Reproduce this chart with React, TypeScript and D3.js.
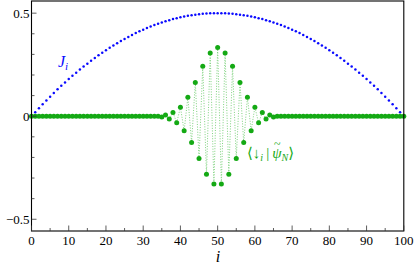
import React from "react";
import * as d3 from "d3";

const siteIndex: number[] = d3.range(0, 101);

// J_i coupling profile
const couplingJ: number[] = [
  0, 0.0198, 0.0392, 0.0582, 0.0768, 0.095, 0.1128, 0.1302, 0.1472, 0.1638,
  0.18, 0.1958, 0.2112, 0.2262, 0.2408, 0.255, 0.2688, 0.2822, 0.2952, 0.3078,
  0.32, 0.3318, 0.3432, 0.3542, 0.3648, 0.375, 0.3848, 0.3942, 0.4032, 0.4118,
  0.42, 0.4278, 0.4352, 0.4422, 0.4488, 0.455, 0.4608, 0.4662, 0.4712, 0.4758,
  0.48, 0.4838, 0.4872, 0.4902, 0.4928, 0.495, 0.4968, 0.4982, 0.4992, 0.4998,
  0.5,
  0.4998, 0.4992, 0.4982, 0.4968, 0.495, 0.4928, 0.4902, 0.4872, 0.4838, 0.48,
  0.4758, 0.4712, 0.4662, 0.4608, 0.455, 0.4488, 0.4422, 0.4352, 0.4278, 0.42,
  0.4118, 0.4032, 0.3942, 0.3848, 0.375, 0.3648, 0.3542, 0.3432, 0.3318, 0.32,
  0.3078, 0.2952, 0.2822, 0.2688, 0.255, 0.2408, 0.2262, 0.2112, 0.1958, 0.18,
  0.1638, 0.1472, 0.1302, 0.1128, 0.095, 0.0768, 0.0582, 0.0392, 0.0198, 0,
];

// <down_i | psi_N> amplitudes (green)
const overlap: number[] = [
  0, 0, 0, 0, 0, 0, 0, 0, 0, 0,
  0, 0, 0, 0, 0, 0, 0, 0, 0, 0,
  0, 0, 0, 0, 0, 0, 0, 0, 0, 0,
  0, 0, 0, 0, 0, -0.004, 0.006, -0.014, 0.018, -0.032,
  0.044, -0.07, 0.092, -0.128, 0.164, -0.205, 0.243, -0.282, 0.307, -0.329,
  0.333,
  -0.329, 0.307, -0.282, 0.243, -0.205, 0.164, -0.128, 0.092, -0.07, 0.044,
  -0.032, 0.018, -0.014, 0.006, -0.004, 0, 0, 0, 0, 0,
  0, 0, 0, 0, 0, 0, 0, 0, 0, 0,
  0, 0, 0, 0, 0, 0, 0, 0, 0, 0,
  0, 0, 0, 0, 0, 0, 0, 0, 0, 0,
];

const xMajorTicks: number[] = [0, 10, 20, 30, 40, 50, 60, 70, 80, 90, 100];
const xMinorTicks: number[] = [5, 15, 25, 35, 45, 55, 65, 75, 85, 95];
const yMajorTicks: number[] = [-0.5, 0, 0.5];
const yMinorTicks: number[] = [-0.4, -0.3, -0.2, -0.1, 0.1, 0.2, 0.3, 0.4];

const W = 415;
const H = 266;
const left = 31.5;
const right = 403.8;
const top = 1;
const bottom = 231;

const serif = "'Liberation Serif', 'Times New Roman', 'DejaVu Serif', serif";

export default function App() {
  const x = d3.scaleLinear().domain([0, 100]).range([left, right]);
  const y = d3.scaleLinear().domain([-0.557, 0.559]).range([bottom, top]);

  const line = d3
    .line<number>()
    .x((_, k) => x(siteIndex[k]))
    .y((d) => y(d));

  const fmt = (v: number) => (v < 0 ? "\u2212" + String(Math.abs(v)) : String(v));
  const green = "#14a914";
  const blue = "#0a0aff";

  return (
    <svg
      width={W}
      height={H}
      fontFamily={serif}
      style={{ position: "absolute", left: 0, top: 0, background: "#fff", fontFamily: serif }}
    >
      {/* green dotted connecting line */}
      <path
        d={line(overlap) || ""}
        fill="none"
        stroke="#7fd37f"
        strokeWidth={1}
        strokeDasharray="1,1.6"
      />
      {/* blue J_i */}
      {couplingJ.map((v, k) => (
        <circle key={"j" + k} cx={x(siteIndex[k])} cy={y(v)} r={1.25} fill={blue} />
      ))}
      {/* green dots */}
      {overlap.map((v, k) => (
        <circle key={"g" + k} cx={x(siteIndex[k])} cy={y(v)} r={2.5} fill={green} />
      ))}

      {/* frame */}
      <rect
        x={left}
        y={top}
        width={right - left}
        height={bottom - top}
        fill="none"
        stroke="#000"
        strokeWidth={1.1}
      />

      {/* x ticks */}
      {xMajorTicks.map((t) => (
        <g key={"xt" + t}>
          <line x1={x(t)} x2={x(t)} y1={bottom} y2={bottom - 5.5} stroke="#333" strokeWidth={0.8} />
          <text x={x(t)} y={245} textAnchor="middle" fontSize={13} fill="#000">
            {t}
          </text>
        </g>
      ))}
      {xMinorTicks.map((t) => (
        <line key={"xm" + t} x1={x(t)} x2={x(t)} y1={bottom} y2={bottom - 3} stroke="#333" strokeWidth={0.8} />
      ))}

      {/* y ticks */}
      {yMajorTicks.map((t) => (
        <g key={"yt" + t}>
          <line x1={left} x2={left + 5} y1={y(t)} y2={y(t)} stroke="#333" strokeWidth={0.8} />
          <text x={29.5} y={y(t)} dy="0.35em" textAnchor="end" fontSize={13} fill="#000">
            {fmt(t)}
          </text>
        </g>
      ))}
      {yMinorTicks.map((t) => (
        <line key={"ym" + t} x1={left} x2={left + 3} y1={y(t)} y2={y(t)} stroke="#333" strokeWidth={0.8} />
      ))}

      {/* axis label */}
      <text x={218} y={262} textAnchor="middle" fontStyle="italic" fontSize={16}>
        i
      </text>

      {/* J_i label */}
      <text x={58} y={66.5} fontStyle="italic" fontSize={16} fill={blue}>
        J
        <tspan fontSize={11} dy={3}>i</tspan>
      </text>

      {/* overlap label */}
      <text x={247} y={158} fontSize={15} fill={green}>
        {"\u27E8\u2193"}
        <tspan fontStyle="italic" fontSize={10} dy={3}>i</tspan>
        <tspan dy={-3}>{"\u2009|\u2009"}</tspan>
        <tspan fontStyle="italic">{"\u03C8"}</tspan>
        <tspan fontSize={12} dx={-7.5} dy={-10}>{"~"}</tspan>
        <tspan fontStyle="italic" fontSize={10} dx={1} dy={13}>N</tspan>
        <tspan dy={-3}>{"\u27E9"}</tspan>
      </text>
    </svg>
  );
}
